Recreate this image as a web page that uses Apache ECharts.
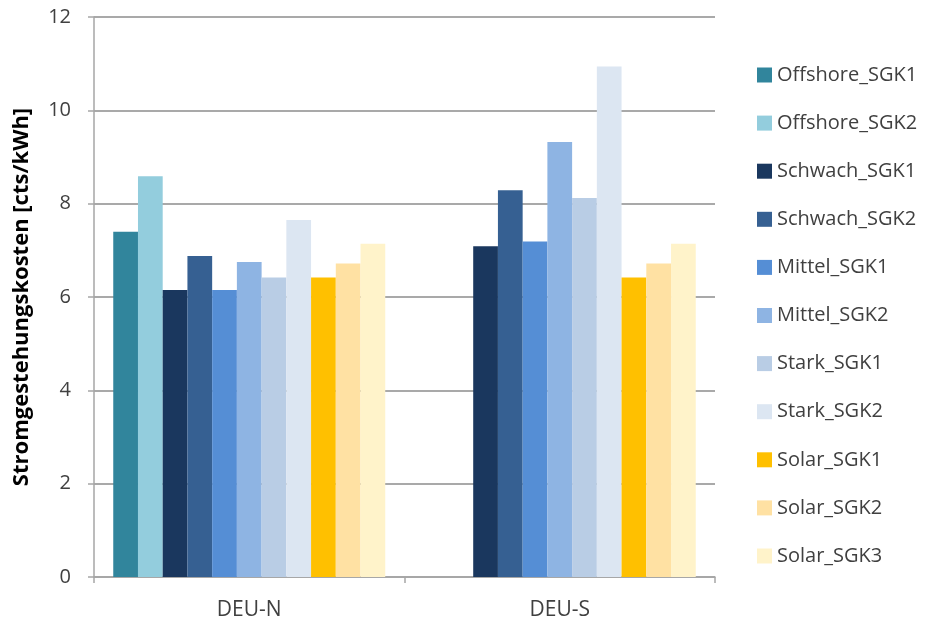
<!DOCTYPE html>
<html>
<head>
<meta charset="utf-8">
<script src="https://cdn.jsdelivr.net/npm/echarts@6/dist/echarts.min.js"></script>
<style>
  html, body { margin: 0; padding: 0; background: #fff; }
  #chart { width: 943px; height: 626px; }
</style>
</head>
<body>
<div id="chart"></div>
<script>
// Regions on the category axis
const regions = ['DEU-N', 'DEU-S'];

// Levelized cost of electricity per technology class [cts/kWh]
const offshoreSGK1 = [7.40, null];
const offshoreSGK2 = [8.59, null];
const schwachSGK1  = [6.15, 7.09];
const schwachSGK2  = [6.88, 8.29];
const mittelSGK1   = [6.15, 7.19];
const mittelSGK2   = [6.75, 9.32];
const starkSGK1    = [6.42, 8.12];
const starkSGK2    = [7.65, 10.94];
const solarSGK1    = [6.42, 6.42];
const solarSGK2    = [6.72, 6.72];
const solarSGK3    = [7.14, 7.14];

const seriesNames = [
  'Offshore_SGK1', 'Offshore_SGK2', 'Schwach_SGK1', 'Schwach_SGK2',
  'Mittel_SGK1', 'Mittel_SGK2', 'Stark_SGK1', 'Stark_SGK2',
  'Solar_SGK1', 'Solar_SGK2', 'Solar_SGK3'
];
const seriesValues = [
  offshoreSGK1, offshoreSGK2, schwachSGK1, schwachSGK2,
  mittelSGK1, mittelSGK2, starkSGK1, starkSGK2,
  solarSGK1, solarSGK2, solarSGK3
];
const seriesColors = [
  '#31859C', '#93CDDD', '#1A375E', '#366092',
  '#558ED5', '#8EB4E3', '#B9CDE5', '#DCE6F2',
  '#FFC000', '#FFE1A3', '#FFF3CA'
];

// Y axis tick values
const yMin = 0, yMax = 12, yStep = 2;

const FONT = '"Open Sans", "Liberation Sans", sans-serif';

const chart = echarts.init(document.getElementById('chart'), null, { renderer: 'canvas' });

chart.setOption({
  animation: false,
  backgroundColor: '#ffffff',
  grid: { left: 94, right: 228, top: 17, bottom: 49, containLabel: false },
  legend: {
    orient: 'vertical',
    left: 752,
    top: 60,
    itemWidth: 15,
    itemHeight: 15,
    itemGap: 28.1,
    icon: 'rect',
    textStyle: { fontFamily: FONT, fontSize: 20, color: '#404040' },
    data: seriesNames
  },
  xAxis: {
    type: 'category',
    data: regions,
    axisLine: { lineStyle: { color: '#A6A6A6', width: 1.5 } },
    axisTick: { show: true, alignWithLabel: false, length: 6, lineStyle: { color: '#A6A6A6', width: 1.5 } },
    axisLabel: { fontFamily: FONT, fontSize: 21, color: '#404040', margin: 23 },
    splitLine: { show: false }
  },
  yAxis: {
    type: 'value',
    min: yMin,
    max: yMax,
    interval: yStep,
    name: 'Stromgestehungskosten [cts/kWh]',
    nameLocation: 'middle',
    nameGap: 61,
    nameTextStyle: { fontFamily: FONT, fontSize: 22, fontWeight: 'bold', color: '#000000' },
    axisLine: { show: true, lineStyle: { color: '#A6A6A6', width: 1.5 } },
    axisTick: { show: true, inside: false, length: 6, lineStyle: { color: '#A6A6A6', width: 1.5 } },
    axisLabel: { fontFamily: FONT, fontSize: 20, color: '#404040', margin: 23 },
    splitLine: { show: true, lineStyle: { color: '#8C8C8C', width: 1.5 } }
  },
  series: seriesNames.map((name, i) => ({
    name: name,
    type: 'bar',
    data: seriesValues[i],
    barGap: '0%',
    barCategoryGap: '12.4%',
    itemStyle: { color: seriesColors[i] }
  }))
});
</script>
</body>
</html>
